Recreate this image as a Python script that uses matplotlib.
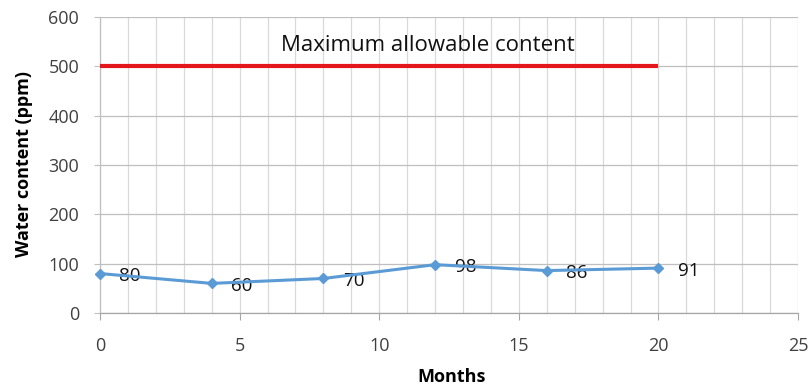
import matplotlib
matplotlib.use("Agg")
import matplotlib.pyplot as plt
from matplotlib.ticker import MultipleLocator

plt.rcParams["font.family"] = ["Open Sans", "DejaVu Sans"]

# sampling months and measured water content (ppm)
months = [0, 4, 8, 12, 16, 20]
water_ppm = [80, 60, 70, 98, 86, 91]

# allowable limit
limit_months = [0, 20]
limit_ppm = 500
limit_text = "Maximum allowable content"

blue = "#5B9BD5"
red = "#E3161C"
grid_minor = "#D9D9D9"
grid_major = "#BFBFBF"

fig = plt.figure(figsize=(8.12, 3.87), dpi=100)
ax = fig.add_axes([0.1232, 0.1912, 0.8596, 0.7648])

ax.set_xlim(0, 25)
ax.set_ylim(0, 600)
ax.xaxis.set_major_locator(MultipleLocator(5))
ax.xaxis.set_minor_locator(MultipleLocator(1))
ax.yaxis.set_major_locator(MultipleLocator(100))

ax.grid(which="minor", axis="x", color=grid_minor, lw=0.9)
ax.grid(which="major", axis="x", color=grid_minor, lw=0.9)
ax.grid(which="major", axis="y", color=grid_major, lw=0.9)
ax.set_axisbelow(True)

for s in ["top", "right"]:
    ax.spines[s].set_visible(False)
ax.spines["left"].set_color(grid_major)
ax.spines["bottom"].set_color("#A6A6A6")
ax.spines["left"].set_linewidth(0.9)
ax.spines["bottom"].set_linewidth(0.9)

ax.tick_params(axis="x", which="major", length=5, color="#A6A6A6",
               labelsize=13, pad=12, labelcolor="#404040")
ax.tick_params(axis="x", which="minor", length=0)
ax.tick_params(axis="y", length=4, color=grid_major, labelsize=13, pad=11,
               labelcolor="#404040")

ax.plot(limit_months, [limit_ppm, limit_ppm], color=red, lw=3,
        solid_capstyle="butt", zorder=3)
ax.text(11.75, 543, limit_text, fontsize=16, ha="center", va="center",
        color="#111111")

ax.plot(months, water_ppm, color=blue, lw=2.2, marker="D", ms=5.5,
        zorder=4, clip_on=False)
for m, v in zip(months, water_ppm):
    ax.annotate(str(v), (m, v), xytext=(14, -2), textcoords="offset points",
                ha="left", va="center", fontsize=13.5, color="#111111")

# axis titles placed in figure coords
fig.text(452 / 812, 1 - 377 / 387, "Months", fontsize=13, fontweight="bold",
         ha="center", va="center")
fig.text(24 / 812, 1 - 164 / 387, "Water content (ppm)", fontsize=13,
         fontweight="bold", rotation=90, ha="center", va="center")

fig.savefig("out.png", dpi=100)
